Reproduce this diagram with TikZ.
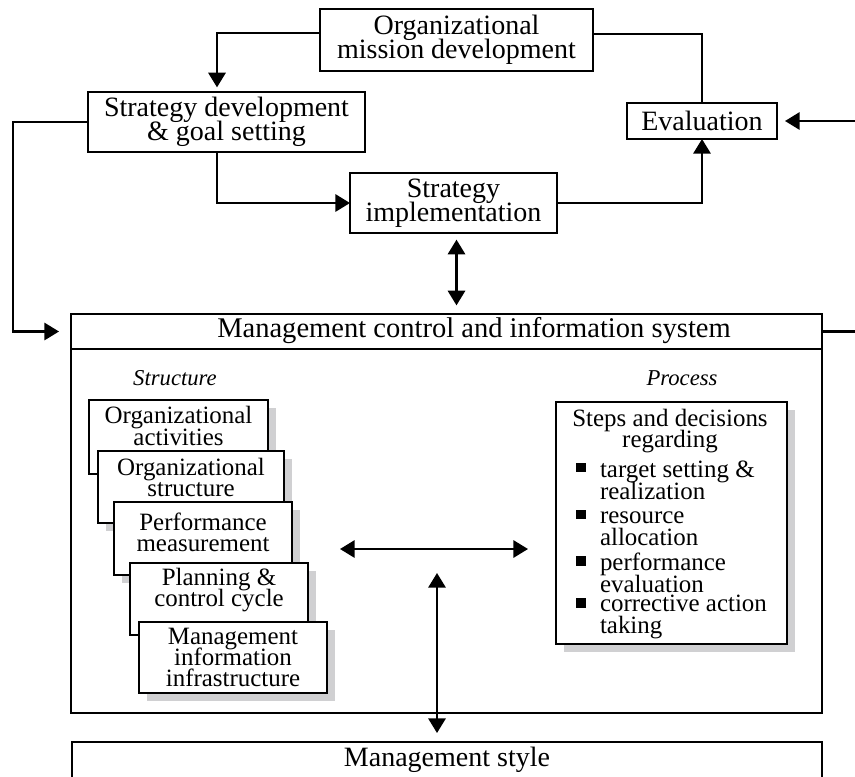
\documentclass[tikz,border=0pt]{standalone}
\usepackage{fontspec}
\setmainfont{Liberation Serif}
\usetikzlibrary{arrows.meta,calc,shadows}
\newcommand\figbig{\fontsize{21}{18}\selectfont\lineskiplimit=-100pt\relax}
\newcommand\figsmall{\fontsize{18.7}{16}\selectfont\lineskiplimit=-100pt\relax}
\newcommand\figitem{\fontsize{18.7}{16.5}\selectfont\lineskiplimit=-100pt\relax}
\newcommand\figital{\fontsize{17}{18}\selectfont\itshape}
\definecolor{shadowgray}{RGB}{208,208,210}
\begin{document}
\begin{tikzpicture}[x=0.75pt,y=-0.75pt,
  every node/.style={inner sep=0pt, outer sep=0pt},
  box/.style={draw=black, line width=1.5pt, fill=white, align=center, font=\figbig},
  sbox/.style={draw=black, line width=1.5pt, fill=white,
    drop shadow={shadow xshift=6pt, shadow yshift=-6pt, fill=shadowgray, opacity=1}},
  stxt/.style={align=center, font=\figsmall},
  itm/.style={align=left, anchor=west, font=\figitem},
  bul/.style={fill=black, minimum size=7pt},
  conn/.style={line width=1.6pt},
  arr/.style={conn, -{Triangle[length=11pt,width=13pt]}},
  darr/.style={conn, {Triangle[length=11pt,width=13pt]}-{Triangle[length=11pt,width=13pt]}}
]
\useasboundingbox (0,0) rectangle (855,776);
\clip (0,0) rectangle (855,776);

% top boxes
\node[box, minimum width=204.75pt, minimum height=46.5pt] (org) at (456.5,40) {Organizational\\mission development};
\node[box, minimum width=207.75pt, minimum height=45pt] (sdev) at (226.5,122) {Strategy development\\\& goal setting};
\node[box, minimum width=155.25pt, minimum height=45pt] (impl) at (453.5,203) {Strategy\\implementation};
\node[box, minimum width=112.5pt, minimum height=27pt] (eval) at (702,121) {Evaluation};

% management control and information system
\node[draw=black, line width=1.5pt, fill=white, minimum width=563.25pt, minimum height=299.25pt] (mcis) at (446.5,513.5) {};
\node[draw=black, line width=1.5pt, fill=white, minimum width=563.25pt, minimum height=26.25pt] (mhead) at (446.5,331.5) {};
\node[font=\fontsize{21.4}{18}\selectfont] (mhtxt) at (474,331) {Management control and information system};

\node[font=\figital] (structure) at (175,378) {Structure};
\node[font=\figital] (process) at (682,378) {Process};

% structure stack
\node[sbox, minimum width=134.25pt, minimum height=55.5pt] (s1) at (178.5,437) {};
\node[stxt] (t1) at (178.5,426) {Organizational\\activities};
\node[sbox, minimum width=139.5pt, minimum height=54pt] (s2) at (191,487) {};
\node[stxt] (t2) at (191,477.5) {Organizational\\structure};
\node[sbox, minimum width=133.5pt, minimum height=54.75pt] (s3) at (203,538.5) {};
\node[stxt] (t3) at (203,532) {Performance\\measurement};
\node[sbox, minimum width=133.5pt, minimum height=54pt] (s4) at (219,599) {};
\node[stxt] (t4) at (219,590) {Planning \&\\control cycle};
\node[sbox, minimum width=141pt, minimum height=53.25pt] (s5) at (233,657.5) {};
\node[stxt] (t5) at (233,657.5) {Management\\information\\infrastructure};

% process box
\node[sbox, minimum width=173.25pt, minimum height=181.5pt] (proc) at (671.5,523) {};
\node[stxt] (ptitle) at (670,431) {Steps and decisions\\regarding};
\node[bul] (b1) at (581,467.5) {};
\node[itm] (i1) at (600,480.5) {target setting \&\\realization};
\node[bul] (b2) at (581,514.5) {};
\node[itm] (i2) at (600,528.5) {resource\\allocation};
\node[bul] (b3) at (581,561) {};
\node[itm] (i3) at (600,573) {performance\\evaluation};
\node[bul] (b4) at (581,603) {};
\node[itm] (i4) at (600,617) {corrective action\\taking};

% management style
\node[draw=black, line width=1.5pt, fill=white, minimum width=562.5pt, minimum height=60pt] (mstyle) at (447,782) {};
\node[font=\figbig] (mstxt) at (447,760) {Management style};

% connectors
\coordinate (rin) at (855,121);
\coordinate (rout) at (855,331.5);
\coordinate (va) at ($(impl.south)+(3,0)$);
\coordinate (hl) at (340,549);
\coordinate (hr) at (528,549);
\coordinate (vt) at (437,573);

\draw[arr, shorten >=3.5pt] ($(org.west)+(0,-7)$) -| ($(sdev.north)+(-9.5,0)$);
\draw[conn] ($(org.east)+(0,-6)$) -| (eval.north);
\draw[arr] ($(sdev.south)+(-9.5,0)$) |- (impl.west);
\draw[arr] (impl.east) -| (eval.south);
\draw[arr, shorten >=6pt] (rin) -- (eval.east);
\draw[arr, shorten >=9pt] (sdev.west) -- ++(-75,0) |- (mhead.west);
\draw[conn] (mhead.east) -- (rout);
\draw[darr, shorten <=5pt, shorten >=6.5pt] (va) -- (va |- mhead.north);
\draw[darr] (hl) -- (hr);
\draw[darr, shorten >=6.75pt] (vt) -- (vt |- mstyle.north);
\end{tikzpicture}
\end{document}
